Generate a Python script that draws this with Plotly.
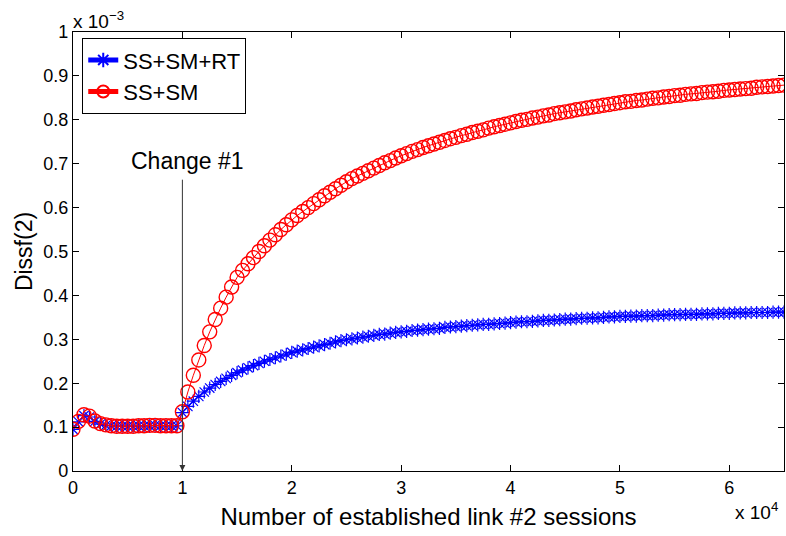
import plotly.graph_objects as go

# x: number of established link #2 sessions (step 500)
x_sessions = [i * 500 for i in range(131)]

# Dissf(2) values, in units of 1e-3
ss_sm_rt = [
    0.095, 0.112, 0.126, 0.123, 0.113, 0.107, 0.104, 0.103, 0.102, 0.102,
    0.102, 0.102, 0.103, 0.103, 0.103, 0.104, 0.103, 0.103, 0.103, 0.103,
    0.133, 0.147, 0.159, 0.170, 0.180, 0.189, 0.197, 0.204, 0.211, 0.218,
    0.224, 0.230, 0.235, 0.240, 0.245, 0.250, 0.254, 0.258, 0.262, 0.266,
    0.270, 0.273, 0.276, 0.279, 0.282, 0.285, 0.288, 0.291, 0.294, 0.297,
    0.299, 0.301, 0.303, 0.305, 0.307, 0.309, 0.311, 0.312, 0.314, 0.316,
    0.317, 0.318, 0.320, 0.321, 0.322, 0.323, 0.324, 0.325, 0.327, 0.328,
    0.329, 0.330, 0.331, 0.332, 0.333, 0.334, 0.334, 0.335, 0.336, 0.337,
    0.338, 0.339, 0.340, 0.340, 0.341, 0.342, 0.343, 0.343, 0.344, 0.345,
    0.346, 0.346, 0.347, 0.348, 0.348, 0.349, 0.349, 0.350, 0.351, 0.351,
    0.352, 0.352, 0.353, 0.353, 0.354, 0.354, 0.354, 0.355, 0.355, 0.356,
    0.356, 0.356, 0.357, 0.357, 0.357, 0.358, 0.358, 0.358, 0.359, 0.359,
    0.359, 0.360, 0.360, 0.360, 0.361, 0.361, 0.361, 0.361, 0.362, 0.362,
    0.362,
]

ss_sm = [
    0.095, 0.113, 0.128, 0.125, 0.114, 0.108, 0.105, 0.103, 0.102, 0.102,
    0.102, 0.102, 0.103, 0.103, 0.104, 0.104, 0.103, 0.103, 0.103, 0.103,
    0.135, 0.180, 0.218, 0.253, 0.286, 0.317, 0.345, 0.371, 0.396, 0.419,
    0.441, 0.457, 0.472, 0.486, 0.500, 0.513, 0.526, 0.538, 0.550, 0.561,
    0.572, 0.582, 0.591, 0.600, 0.609, 0.618, 0.627, 0.635, 0.643, 0.651,
    0.659, 0.666, 0.672, 0.678, 0.684, 0.690, 0.696, 0.702, 0.707, 0.713,
    0.718, 0.723, 0.728, 0.732, 0.737, 0.741, 0.745, 0.749, 0.753, 0.757,
    0.760, 0.764, 0.767, 0.771, 0.774, 0.777, 0.781, 0.784, 0.787, 0.790,
    0.793, 0.796, 0.799, 0.801, 0.804, 0.806, 0.809, 0.811, 0.814, 0.816,
    0.818, 0.820, 0.823, 0.825, 0.827, 0.829, 0.831, 0.833, 0.835, 0.837,
    0.839, 0.841, 0.842, 0.844, 0.845, 0.847, 0.849, 0.850, 0.852, 0.853,
    0.855, 0.856, 0.858, 0.859, 0.860, 0.862, 0.863, 0.864, 0.865, 0.867,
    0.868, 0.869, 0.870, 0.871, 0.872, 0.874, 0.875, 0.876, 0.877, 0.878,
    0.879,
]

x_tickvals = [0, 10000, 20000, 30000, 40000, 50000, 60000]
x_ticktext = ["0", "1", "2", "3", "4", "5", "6"]
y_tickvals = [0, 0.1, 0.2, 0.3, 0.4, 0.5, 0.6, 0.7, 0.8, 0.9, 1.0]
y_ticktext = ["0", "0.1", "0.2", "0.3", "0.4", "0.5", "0.6", "0.7", "0.8", "0.9", "1"]

change_x = 10000
change_label = "Change #1"

FONT = "Liberation Sans, Arial, Helvetica, sans-serif"

fig = go.Figure()
fig.add_trace(go.Scatter(
    x=x_sessions, y=ss_sm_rt, mode="lines+markers", name="SS+SM+RT",
    line=dict(color="#0000ff", width=1),
    marker=dict(symbol="asterisk-open", size=11, color="#0000ff",
                line=dict(color="#0000ff", width=1.2)),
))
fig.add_trace(go.Scatter(
    x=x_sessions, y=ss_sm, mode="lines+markers", name="SS+SM",
    line=dict(color="#ff0000", width=1),
    marker=dict(symbol="circle-open", size=14, color="#ff0000",
                line=dict(color="#ff0000", width=1.4)),
))

axis_common = dict(
    showline=True, linecolor="black", linewidth=1.2, mirror="allticks",
    ticks="inside", ticklen=6, tickcolor="black", tickwidth=1,
    showgrid=False, zeroline=False,
    tickfont=dict(family=FONT, size=18, color="black"),
)

fig.update_xaxes(
    range=[0, 65000], tickmode="array", tickvals=x_tickvals, ticktext=x_ticktext,
    title=dict(text="Number of established link #2 sessions",
               font=dict(family=FONT, size=24, color="black"), standoff=11),
    **axis_common,
)
fig.update_yaxes(
    range=[0, 1], tickmode="array", tickvals=y_tickvals, ticktext=y_ticktext,
    title=dict(text="Dissf(2)", font=dict(family=FONT, size=23, color="black"),
               standoff=4),
    **axis_common,
)

fig.add_annotation(
    x=change_x, y=0, xref="x", yref="y", ax=change_x, ay=0.667,
    axref="x", ayref="y", text="", showarrow=True, arrowhead=2,
    arrowsize=1.2, arrowwidth=1, arrowcolor="#333333", standoff=0,
)
fig.add_annotation(
    x=change_x, y=0.672, xref="x", yref="y", text=change_label, showarrow=False,
    yanchor="bottom", xanchor="center", xshift=5,
    font=dict(family=FONT, size=23, color="black"),
)
fig.add_annotation(
    x=0, y=1.0, xref="paper", yref="paper", text="x 10<sup>−3</sup>",
    showarrow=False, xanchor="left", yanchor="bottom", xshift=-2, yshift=-2,
    font=dict(family=FONT, size=19, color="black"),
)
fig.add_annotation(
    x=1.0, y=-0.06, xref="paper", yref="paper", text="x 10<sup>4</sup>",
    showarrow=False, xanchor="right", yanchor="top", xshift=-4,
    font=dict(family=FONT, size=19, color="black"),
)

fig.update_layout(
    width=786, height=536,
    margin=dict(l=73, r=2, t=32, b=65),
    paper_bgcolor="white", plot_bgcolor="white",
    font=dict(family=FONT, color="black"),
    showlegend=True,
    legend=dict(
        x=0.013, y=0.986, xanchor="left", yanchor="top",
        bgcolor="white", bordercolor="black", borderwidth=1,
        font=dict(family=FONT, size=22, color="black"),
        tracegroupgap=0, itemsizing="constant", itemwidth=30,
    ),
)

fig.write_html("out.html")
